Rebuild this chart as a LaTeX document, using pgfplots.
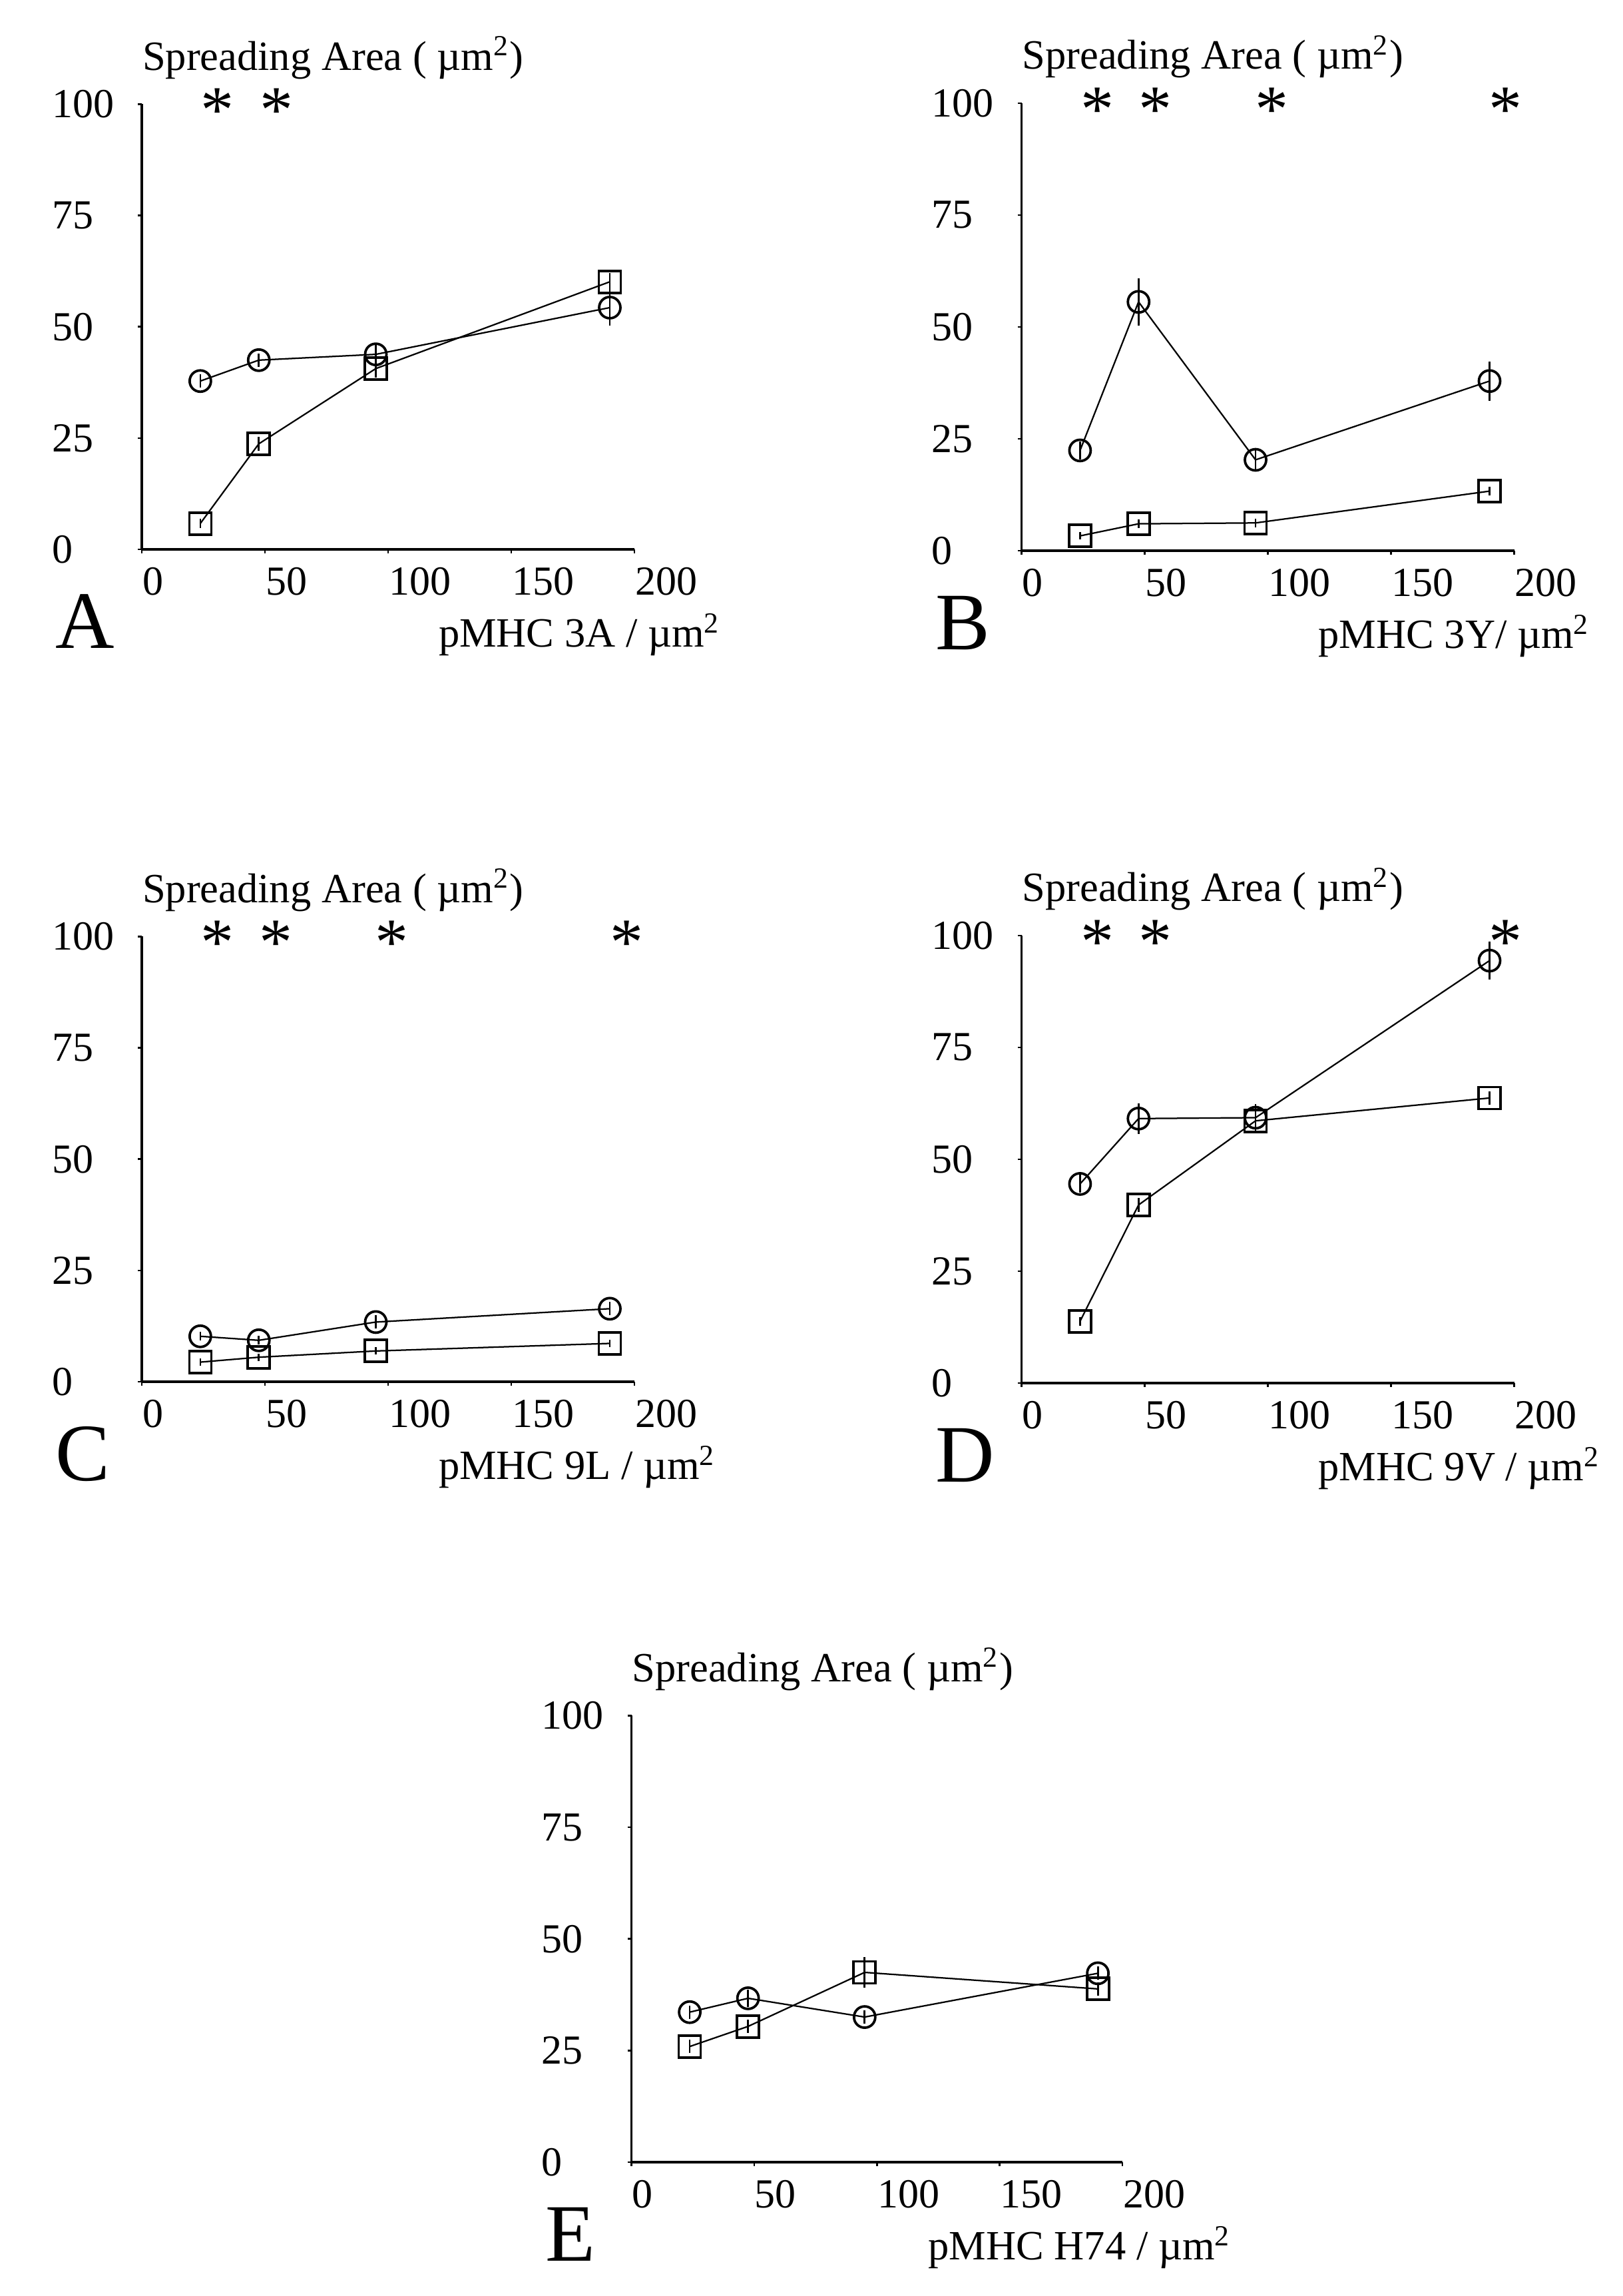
\documentclass[border=0pt]{standalone}
\usepackage{fontspec}
\setmainfont{Liberation Serif}
\usepackage{pgfplots}
\pgfplotsset{compat=1.18}
\newcommand{\ticksize}{\fontsize{12.4}{14}\selectfont}
\newcommand{\titlesize}{\fontsize{12.5}{15}\selectfont}
\newcommand{\lettersize}{\fontsize{24.5}{28}\selectfont}
\newcommand{\starsize}{\fontsize{20}{22}\selectfont}
\pgfplotsset{
  panel/.style={
    scale only axis, width=148pt, height=133.7pt,
    xmin=0, xmax=200, ymin=0, ymax=100,
    axis x line*=bottom, axis y line*=left,
    axis line style={-, line width=0.7pt, black},
    xtick={0,50,100,150,200}, xticklabels={0,50,100,150,200},
    ytick={0,25,50,75,100}, yticklabels={0,25,50,75,100},
    tick align=outside, major tick length=1.2pt,
    tick style={line width=0.5pt, black},
    tick label style={font=\ticksize},
    xticklabel style={anchor=north west, inner sep=0pt, yshift=-4pt},
    yticklabel style={anchor=west, inner sep=0pt, xshift=-26pt},
    clip=false,
    anchor=south west,
  },
  circ/.style={black, line width=0.45pt, mark=o, mark size=3.2pt,
    mark options={line width=0.75pt, solid},
    error bars/.cd, y dir=both, y explicit, error mark=none,
    error bar style={line width=0.55pt}},
  sq/.style={black, line width=0.45pt, mark=square, mark size=3.3pt,
    mark options={line width=0.75pt, solid},
    error bars/.cd, y dir=both, y explicit, error mark=none,
    error bar style={line width=0.55pt}},
  stars/.style={only marks, mark=text, text mark={\starsize *}},
}
\newcommand{\paneltext}[2]{%
  \node[anchor=base west, inner sep=0pt, font=\titlesize, yshift=10.2pt] at (rel axis cs:0,1) {Spreading Area ( µm\textsuperscript{2})};
  \node[anchor=base west, inner sep=0pt, font=\lettersize, xshift=-26pt, yshift=-29.8pt] at (rel axis cs:0,0) {#1};
  \node[anchor=base west, inner sep=0pt, font=\titlesize, xshift=89pt, yshift=-29.4pt] at (rel axis cs:0,0) {#2};
}
\begin{document}
\begin{tikzpicture}
\useasboundingbox (0,0) rectangle (487.4pt,689.6pt);
% Panel A
\begin{axis}[panel, at={(42.6pt,524.6pt)}]
\addplot[circ] coordinates {(23.75,37.8) +- (0,1.5) (47.5,42.5) +- (0,1.5) (95,43.8) +- (0,2.5) (190,54.3) +- (0,4)};
\addplot[sq] coordinates {(23.75,5.8) +- (0,1) (47.5,23.7) +- (0,1.5) (95,40.6) +- (0,2) (190,60.1) +- (0,2)};
\addplot[stars] coordinates {(30.7,98.6) (54.6,98.6)};
\paneltext{A}{pMHC 3A / µm\textsuperscript{2}}
\end{axis}
% Panel B
\begin{axis}[panel, at={(306.9pt,524.2pt)}, height=134.4pt]
\addplot[circ] coordinates {(23.75,22.4) +- (0,2) (47.5,55.6) +- (0,5.3) (95,20.3) +- (0,2.5) (190,37.9) +- (0,4.4)};
\addplot[sq] coordinates {(23.75,3.3) +- (0,0.8) (47.5,6.0) +- (0,1) (95,6.2) +- (0,1) (190,13.3) +- (0,1)};
\addplot[stars] coordinates {(30.7,98.6) (54.3,98.6) (101.6,98.6) (196.5,98.6)};
\paneltext{B}{pMHC 3Y/ µm\textsuperscript{2}}
\end{axis}
% Panel C
\begin{axis}[panel, at={(42.6pt,274.6pt)}]
\addplot[circ] coordinates {(23.75,10.2) +- (0,1) (47.5,9.3) +- (0,1) (95,13.4) +- (0,1.5) (190,16.4) +- (0,1.5)};
\addplot[sq] coordinates {(23.75,4.4) +- (0,0.8) (47.5,5.5) +- (0,0.8) (95,6.9) +- (0,0.8) (190,8.6) +- (0,0.8)};
\addplot[stars] coordinates {(30.7,98.6) (54.5,98.6) (101.5,98.6) (196.8,98.6)};
\paneltext{C}{pMHC 9L / µm\textsuperscript{2}}
\end{axis}
% Panel D
\begin{axis}[panel, at={(306.9pt,274.2pt)}, height=134.4pt]
\addplot[circ] coordinates {(23.75,44.5) +- (0,2) (47.5,59.1) +- (0,3.4) (95,59.3) +- (0,3) (190,94.4) +- (0,4.3)};
\addplot[sq] coordinates {(23.75,13.8) +- (0,1) (47.5,39.8) +- (0,1.5) (95,58.6) +- (0,2) (190,63.7) +- (0,1.5)};
\addplot[stars] coordinates {(30.7,98.6) (54.3,98.6) (196.5,98.6)};
\paneltext{D}{pMHC 9V / µm\textsuperscript{2}}
\end{axis}
% Panel E
\begin{axis}[panel, at={(189.7pt,40.2pt)}, width=147.5pt, height=134.1pt]
\addplot[circ] coordinates {(23.75,33.6) +- (0,1.5) (47.5,36.7) +- (0,2) (95,32.5) +- (0,1.5) (190,42.3) +- (0,1.5)};
\addplot[sq] coordinates {(23.75,25.9) +- (0,1.5) (47.5,30.4) +- (0,1.5) (95,42.5) +- (0,3.5) (190,38.8) +- (0,1.5)};
\paneltext{E}{pMHC H74 / µm\textsuperscript{2}}
\end{axis}
\end{tikzpicture}
\end{document}
